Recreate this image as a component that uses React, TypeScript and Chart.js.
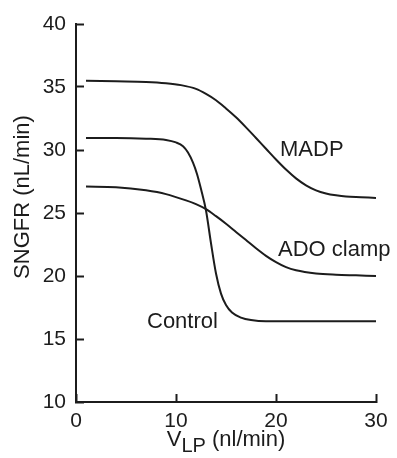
import { useEffect, useRef } from "react";
import { Chart, registerables } from "chart.js";

Chart.register(...registerables);

// ---- data ----
const xTickValues = [0, 10, 20, 30];
const yTickValues = [10, 15, 20, 25, 30, 35, 40];

const madpX = [1, 4, 7, 9, 10.5, 12, 13, 14, 15, 16, 17, 18, 19, 20, 21, 22, 23, 24, 25, 26, 27, 28.5, 30];
const madpY = [35.5, 35.45, 35.4, 35.3, 35.15, 34.85, 34.45, 33.95, 33.3, 32.6, 31.8, 30.95, 30.1, 29.25, 28.45, 27.75, 27.2, 26.8, 26.55, 26.4, 26.3, 26.25, 26.2];

const controlX = [1, 4, 7, 9, 10, 10.7, 11.2, 11.7, 12.1, 12.5, 13.0, 13.5, 14.0, 14.5, 15.0, 15.6, 16.5, 17.5, 19, 22, 26, 30];
const controlY = [30.95, 30.95, 30.9, 30.8, 30.6, 30.3, 29.8, 29.0, 28.1, 26.9, 25.2, 22.6, 20.2, 18.6, 17.7, 17.1, 16.7, 16.5, 16.4, 16.4, 16.4, 16.4];

const adoX = [1, 4, 7, 9, 11, 12, 13, 14, 15, 16, 17, 18, 19, 20, 21, 22, 24, 26, 28, 30];
const adoY = [27.1, 27.05, 26.8, 26.5, 26.0, 25.7, 25.3, 24.75, 24.15, 23.5, 22.85, 22.2, 21.6, 21.1, 20.7, 20.45, 20.2, 20.1, 20.05, 20.0];

const seriesNames = ["MADP", "ADO clamp", "Control"];
// label anchors in data units (left edge / baseline)
const labelX = [20.4, 20.2, 7.1];
const labelY = [29.5, 21.6, 15.9];

const yTitle = "SNGFR (nL/min)";
const xTitleMain = "V";
const xTitleSub = "LP";
const xTitleRest = " (nl/min)";

const FONT = "'Liberation Sans', Arial, Helvetica, sans-serif";
const INK = "#1c1c1c";

const toPts = (xs: number[], ys: number[]) => xs.map((v, i) => ({ x: v, y: ys[i] }));

const textPlugin = {
  id: "figureText",
  afterDraw(chart: any) {
    const { ctx, scales, chartArea } = chart;
    const xs = scales.x;
    const ys = scales.y;
    ctx.save();
    ctx.fillStyle = INK;
    ctx.textBaseline = "alphabetic";
    ctx.textAlign = "left";
    ctx.font = `22px ${FONT}`;
    seriesNames.forEach((name, i) => {
      ctx.fillText(name, xs.getPixelForValue(labelX[i]), ys.getPixelForValue(labelY[i]));
    });

    // x title with subscript
    const mainFont = `22px ${FONT}`;
    const subFont = `20px ${FONT}`;
    ctx.font = mainFont;
    const wMain = ctx.measureText(xTitleMain).width;
    const wRest = ctx.measureText(xTitleRest).width;
    ctx.font = subFont;
    const wSub = ctx.measureText(xTitleSub).width;
    const total = wMain + wSub + wRest;
    const cx = (chartArea.left + chartArea.right) / 2;
    let px = cx - total / 2;
    const base = chartArea.bottom + 44;
    ctx.font = mainFont;
    ctx.fillText(xTitleMain, px, base);
    px += wMain;
    ctx.font = subFont;
    ctx.fillText(xTitleSub, px, base + 6);
    px += wSub;
    ctx.font = mainFont;
    ctx.fillText(xTitleRest, px, base);

    // y title
    ctx.translate(28.5, (chartArea.top + chartArea.bottom) / 2 - 16);
    ctx.rotate(-Math.PI / 2);
    ctx.textAlign = "center";
    ctx.font = `22px ${FONT}`;
    ctx.fillText(yTitle, 0, 0);
    ctx.restore();
  },
};

export default function App() {
  const ref = useRef<HTMLCanvasElement | null>(null);

  useEffect(() => {
    if (!ref.current) return;
    const lineStyle = {
      borderColor: INK,
      borderWidth: 2,
      pointRadius: 0,
      fill: false,
      cubicInterpolationMode: "monotone" as const,
    };
    const chart = new Chart(ref.current, {
      type: "line",
      data: {
        datasets: [
          { label: seriesNames[0], data: toPts(madpX, madpY), ...lineStyle },
          { label: seriesNames[1], data: toPts(adoX, adoY), ...lineStyle },
          { label: seriesNames[2], data: toPts(controlX, controlY), ...lineStyle },
        ],
      },
      options: {
        animation: false,
        responsive: false,
        layout: { padding: { top: 24, right: 21, left: 0, bottom: 0 } },
        plugins: { legend: { display: false }, tooltip: { enabled: false } },
        scales: {
          x: {
            type: "linear",
            min: 0,
            max: 30,
            afterBuildTicks: (s: any) => {
              s.ticks = xTickValues.map((v) => ({ value: v }));
            },
            afterFit: (s: any) => {
              s.height = 56;
              s.paddingLeft = 0;
              s.paddingRight = 0;
            },
            grid: {
              drawOnChartArea: false,
              drawTicks: true,
              tickLength: -8,
              tickWidth: 2,
              tickColor: INK,
            },
            border: { display: true, width: 2, color: INK },
            ticks: {
              color: INK,
              padding: 15,
              maxRotation: 0,
              font: { family: FONT, size: 21 },
            },
          },
          y: {
            type: "linear",
            min: 10,
            max: 40,
            afterBuildTicks: (s: any) => {
              s.ticks = yTickValues.map((v) => ({ value: v }));
            },
            afterFit: (s: any) => {
              s.width = 76;
              s.paddingTop = 0;
              s.paddingBottom = 0;
            },
            grid: {
              drawOnChartArea: false,
              drawTicks: true,
              tickLength: -8,
              tickWidth: 2,
              tickColor: INK,
            },
            border: { display: true, width: 2, color: INK },
            ticks: {
              color: INK,
              padding: 18,
              font: { family: FONT, size: 21 },
            },
          },
        },
      },
      plugins: [textPlugin],
    });
    return () => chart.destroy();
  }, []);

  return (
    <div style={{ position: "absolute", left: 0, top: 0, width: 397, height: 458, background: "#fff" }}>
      <canvas ref={ref} width={397} height={458} style={{ display: "block" }} />
    </div>
  );
}
